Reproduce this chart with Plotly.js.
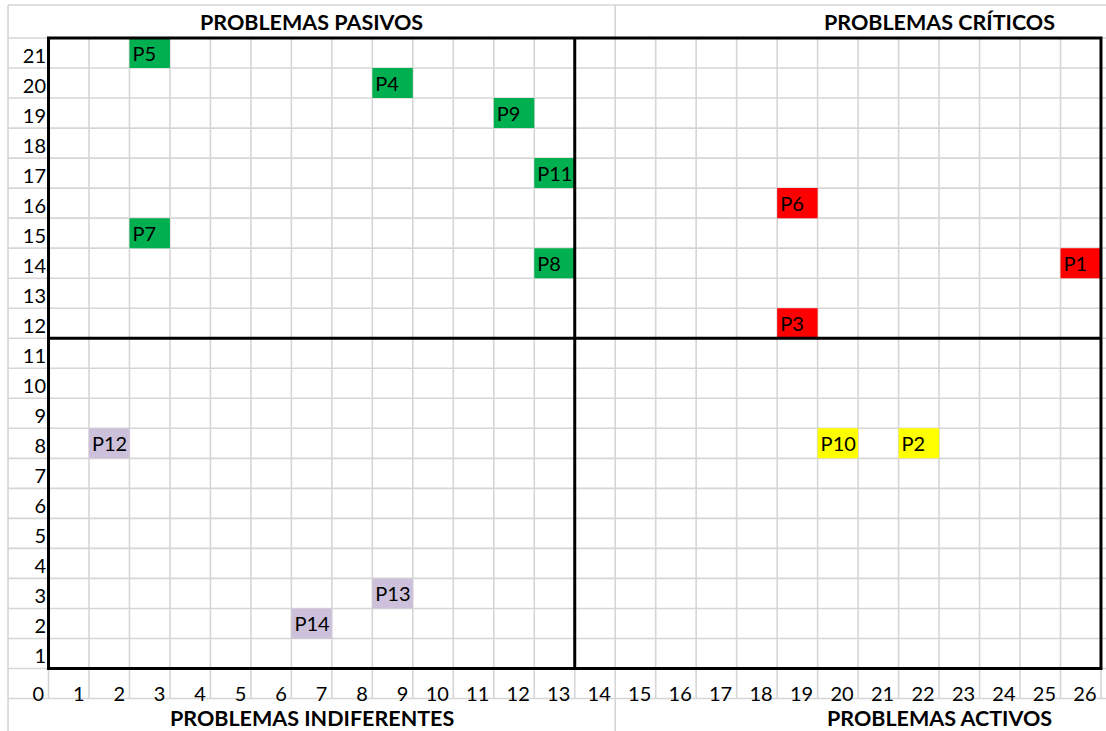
<!DOCTYPE html>
<html>
<head>
<meta charset="utf-8">
<script src="https://cdn.plot.ly/plotly-3.0.1.min.js"></script>
<style>
html,body{margin:0;padding:0;background:#ffffff;}
#chart{width:1106px;height:731px;}
</style>
</head>
<body>
<div id="chart"></div>
<script>
// ---------- data ----------
const pasivosLabels = ['P5', 'P4', 'P9', 'P11', 'P7', 'P8'];
const pasivosX = [3, 9, 12, 13, 3, 13];
const pasivosY = [21, 20, 19, 17, 15, 14];

const criticosLabels = ['P6', 'P1', 'P3'];
const criticosX = [19, 26, 19];
const criticosY = [16, 14, 12];

const activosLabels = ['P10', 'P2'];
const activosX = [20, 22];
const activosY = [8, 8];

const indiferentesLabels = ['P12', 'P13', 'P14'];
const indiferentesX = [2, 9, 7];
const indiferentesY = [8, 3, 2];

const xTickValues = [0, 1, 2, 3, 4, 5, 6, 7, 8, 9, 10, 11, 12, 13, 14, 15, 16, 17, 18, 19, 20, 21, 22, 23, 24, 25, 26];
const xTickLabels = ['0', '1', '2', '3', '4', '5', '6', '7', '8', '9', '10', '11', '12', '13', '14', '15', '16', '17', '18', '19', '20', '21', '22', '23', '24', '25', '26'];
const yTickValues = [1, 2, 3, 4, 5, 6, 7, 8, 9, 10, 11, 12, 13, 14, 15, 16, 17, 18, 19, 20, 21];
const yTickLabels = ['1', '2', '3', '4', '5', '6', '7', '8', '9', '10', '11', '12', '13', '14', '15', '16', '17', '18', '19', '20', '21'];

const quadrantTitles = ['PROBLEMAS PASIVOS', 'PROBLEMAS CRÍTICOS', 'PROBLEMAS INDIFERENTES', 'PROBLEMAS ACTIVOS'];
const xMax = 26, yMax = 21, xSplit = 13, ySplit = 11;

// ---------- styling ----------
const FONT = 'Lato, "Open Sans", sans-serif';
const GRID = '#d6d6d6';
const X0 = -1.198, X1 = 26.124;   // axis range (columns)
const Y0 = -2.082, Y1 = 22.266;   // axis range (rows)
const TITLE_TOP = 22.1;           // top of title row
const MERGE_SPLIT = 14;           // merged title cells split
const TEXT_SIZE = 20;

function cellTrace(labels, xs, ys, color, name) {
  return {
    type: 'bar',
    orientation: 'h',
    name: name,
    y: ys.map(v => v - 0.5),
    x: xs.map(() => 1),
    base: xs.map(v => v - 1),
    width: 1,
    text: labels,
    textposition: 'inside',
    insidetextanchor: 'start',
    constraintext: 'none',
    insidetextfont: {family: FONT, size: TEXT_SIZE, color: '#000000'},
    marker: {color: color, line: {width: 0}},
    hoverinfo: 'text',
    cliponaxis: false
  };
}

const traces = [
  cellTrace(pasivosLabels, pasivosX, pasivosY, '#00b050', 'Pasivos'),
  cellTrace(criticosLabels, criticosX, criticosY, '#ff0000', 'Críticos'),
  cellTrace(activosLabels, activosX, activosY, '#ffff00', 'Activos'),
  cellTrace(indiferentesLabels, indiferentesX, indiferentesY, '#ccc0da', 'Indiferentes')
];

// ---------- spreadsheet grid ----------
const shapes = [];
function line(x0, y0, x1, y1, color, w, layer) {
  shapes.push({type: 'line', xref: 'x', yref: 'y', x0: x0, y0: y0, x1: x1, y1: y1,
    line: {color: color, width: w}, layer: layer || 'below'});
}
// vertical cell borders (label row / column + body)
for (let c = -1; c <= xMax + 1; c++) {
  line(c, -1, c, yMax, GRID, 1.6);
}
// vertical borders through the merged title rows
[-1, MERGE_SPLIT].forEach(c => {
  line(c, yMax, c, TITLE_TOP, GRID, 1.6);
  line(c, -1, c, Y0, GRID, 1.6);
});
// horizontal cell borders
for (let r = -1; r <= yMax; r++) {
  line(-1, r, X1, r, GRID, 1.6);
}
line(-1, TITLE_TOP, X1, TITLE_TOP, GRID, 1.6);

// quadrant box and dividers
shapes.push({type: 'rect', xref: 'x', yref: 'y', x0: 0, y0: 0, x1: xMax, y1: yMax,
  line: {color: '#000000', width: 3}, fillcolor: 'rgba(0,0,0,0)', layer: 'above'});
line(xSplit, 0, xSplit, yMax, '#000000', 3, 'above');
line(0, ySplit, xMax, ySplit, '#000000', 3, 'above');

// ---------- quadrant titles ----------
const leftCenter = (-1 + MERGE_SPLIT) / 2;
const rightCenter = 22;
const titlePos = [
  [leftCenter, yMax + 0.55], [rightCenter, yMax + 0.55],
  [leftCenter, -1.64], [rightCenter, -1.64]
];
const annotations = quadrantTitles.map((t, i) => ({
  text: t, x: titlePos[i][0], y: titlePos[i][1], xref: 'x', yref: 'y',
  showarrow: false, xanchor: 'center', yanchor: 'middle',
  font: {family: FONT, size: 21.5, color: '#000000', weight: 'bold'}
}));

const layout = {
  width: 1106, height: 731,
  margin: {l: 0, r: 0, t: 0, b: 0, pad: 0},
  paper_bgcolor: '#ffffff', plot_bgcolor: '#ffffff',
  showlegend: false,
  barmode: 'overlay',
  uniformtext: {mode: 'show', minsize: TEXT_SIZE},
  font: {family: FONT, color: '#000000'},
  xaxis: {
    range: [X0, X1], anchor: 'free', position: (731 - 680) / 731,
    showgrid: false, zeroline: false, showline: false, ticks: '',
    tickmode: 'array', tickvals: xTickValues.map(v => v - 0.11), ticktext: xTickLabels,
    ticklabelposition: 'outside left',
    tickfont: {family: FONT, size: TEXT_SIZE, color: '#000000'},
    fixedrange: true
  },
  yaxis: {
    range: [Y0, Y1], anchor: 'free', position: 46 / 1106,
    showgrid: false, zeroline: false, showline: false, ticks: '',
    tickmode: 'array', tickvals: yTickValues.map(v => v - 0.6), ticktext: yTickLabels,
    tickfont: {family: FONT, size: TEXT_SIZE, color: '#000000'},
    fixedrange: true
  },
  shapes: shapes,
  annotations: annotations
};

Plotly.newPlot('chart', traces, layout, {displayModeBar: false, staticPlot: true});
</script>
</body>
</html>
